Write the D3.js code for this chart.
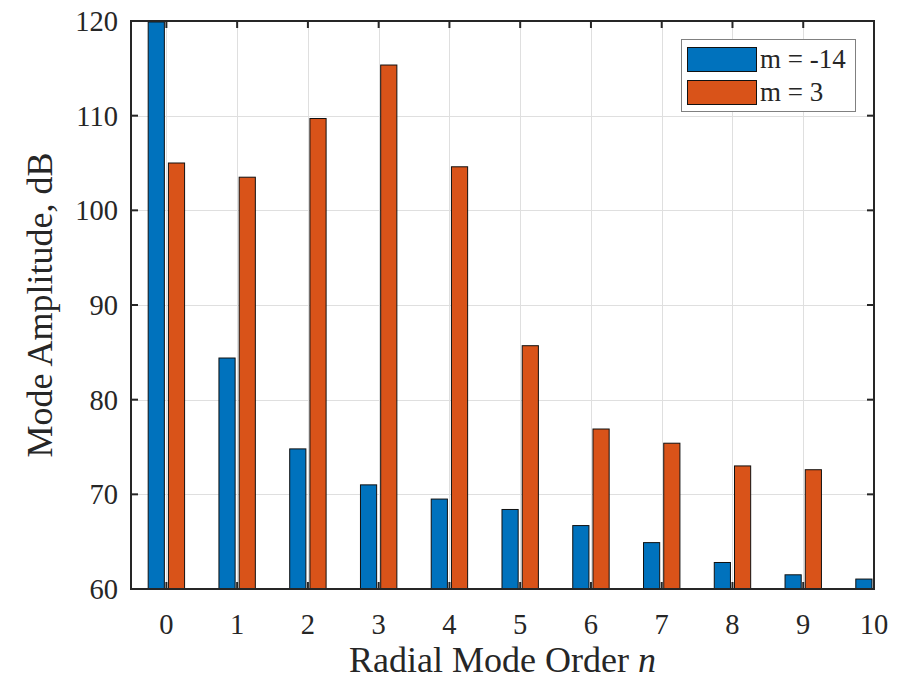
<!DOCTYPE html>
<html>
<head>
<meta charset="utf-8">
<title>Mode amplitude</title>
<script src="https://cdn.jsdelivr.net/npm/d3@7"></script>
<style>
  body { margin: 0; background: #fff; }
  svg text { font-family: "Liberation Serif", "Times New Roman", serif; fill: #262626; }
</style>
</head>
<body>
<script>
  // radial mode order n
  var orders = [0, 1, 2, 3, 4, 5, 6, 7, 8, 9, 10];
  // mode amplitude, dB, for m = -14
  var ampM14 = [119.9, 84.4, 74.8, 71.0, 69.5, 68.4, 66.7, 64.9, 62.8, 61.5, 61.05];
  // mode amplitude, dB, for m = 3 (nothing shown at n = 10)
  var ampM3 = [105.0, 103.5, 109.7, 115.35, 104.6, 85.7, 76.9, 75.4, 73.0, 72.6, null];
  var seriesNames = ["m = -14", "m = 3"];
  var yTicks = [60, 70, 80, 90, 100, 110, 120];

  var w = 908, h = 680;
  // plot box (note: "top" is taken by window.top, so prefix these)
  var pLeft = 131, pRight = 874, pTop = 21, pBottom = 589;
  var colors = ["#0072BD", "#D95319"];
  var axisColor = "#262626";

  var x = d3.scaleLinear().domain([-0.5, 10]).range([pLeft, pRight]);
  var y = d3.scaleLinear().domain([60, 120]).range([pBottom, pTop]);

  var barW = 0.2286;          // bar width in data units (matlab grouped bar)
  var offsets = [-0.1429, 0.1429];

  var svg = d3.select("body").append("svg")
    .attr("width", w)
    .attr("height", h);

  // grid
  var grid = svg.append("g").attr("stroke", "#dfdfdf").attr("stroke-width", 1);
  grid.selectAll("line.gx").data(orders).enter().append("line")
    .attr("x1", function (d) { return Math.round(x(d)) + 0.5; })
    .attr("x2", function (d) { return Math.round(x(d)) + 0.5; })
    .attr("y1", pTop).attr("y2", pBottom);
  grid.selectAll("line.gy").data(yTicks).enter().append("line")
    .attr("y1", function (d) { return Math.round(y(d)) + 0.5; })
    .attr("y2", function (d) { return Math.round(y(d)) + 0.5; })
    .attr("x1", pLeft).attr("x2", pRight);

  // bars
  [ampM14, ampM3].forEach(function (vals, s) {
    var pts = orders.map(function (n, i) { return { n: n, v: vals[i] }; })
                    .filter(function (d) { return d.v != null; });
    svg.append("g").selectAll("rect").data(pts).enter().append("rect")
      .attr("x", function (d) { return x(d.n + offsets[s] - barW / 2); })
      .attr("width", function (d) { return x(d.n + barW) - x(d.n); })
      .attr("y", function (d) { return y(d.v); })
      .attr("height", function (d) { return y(60) - y(d.v); })
      .attr("fill", colors[s])
      .attr("stroke", "#111")
      .attr("stroke-width", 1);
  });

  // axes (box with inward ticks on all four sides)
  var ax = svg.append("g");
  ax.append("rect")
    .attr("x", pLeft).attr("y", pTop)
    .attr("width", pRight - pLeft).attr("height", pBottom - pTop)
    .attr("fill", "none").attr("stroke", axisColor).attr("stroke-width", 2);

  var tl = 7;
  var ticks = ax.append("g").attr("stroke", axisColor).attr("stroke-width", 2);
  orders.forEach(function (d) {
    ticks.append("line").attr("x1", x(d)).attr("x2", x(d)).attr("y1", pBottom).attr("y2", pBottom - tl);
    ticks.append("line").attr("x1", x(d)).attr("x2", x(d)).attr("y1", pTop).attr("y2", pTop + tl);
  });
  yTicks.forEach(function (d) {
    ticks.append("line").attr("y1", y(d)).attr("y2", y(d)).attr("x1", pLeft).attr("x2", pLeft + tl);
    ticks.append("line").attr("y1", y(d)).attr("y2", y(d)).attr("x1", pRight).attr("x2", pRight - tl);
  });

  // tick labels
  ax.selectAll("text.xt").data(orders).enter().append("text")
    .attr("x", function (d) { return x(d); })
    .attr("y", 634)
    .attr("text-anchor", "middle")
    .attr("font-size", 28.5)
    .text(function (d) { return d; });
  ax.selectAll("text.yt").data(yTicks).enter().append("text")
    .attr("x", pLeft - 13)
    .attr("y", function (d) { return y(d); })
    .attr("dy", "0.35em")
    .attr("text-anchor", "end")
    .attr("font-size", 28.5)
    .text(function (d) { return d; });

  // axis labels
  var xl = svg.append("text")
    .attr("x", (pLeft + pRight) / 2)
    .attr("y", 672)
    .attr("text-anchor", "middle")
    .attr("font-size", 36);
  xl.append("tspan").text("Radial Mode Order ");
  xl.append("tspan").attr("font-style", "italic").text("n");

  svg.append("text")
    .attr("transform", "translate(52," + ((pTop + pBottom) / 2) + ") rotate(-90)")
    .attr("text-anchor", "middle")
    .attr("font-size", 36)
    .text("Mode Amplitude, dB");

  // legend
  var lg = svg.append("g");
  lg.append("rect")
    .attr("x", 681.5).attr("y", 39.5).attr("width", 174).attr("height", 72)
    .attr("fill", "#fff").attr("stroke", "#808080").attr("stroke-width", 1);
  seriesNames.forEach(function (name, i) {
    lg.append("rect")
      .attr("x", 687.5).attr("y", 47.5 + i * 33).attr("width", 69).attr("height", 24)
      .attr("fill", colors[i]).attr("stroke", "#111").attr("stroke-width", 1);
    lg.append("text")
      .attr("x", 760).attr("y", 68 + i * 33)
      .attr("font-size", 27)
      .text(name);
  });
</script>
</body>
</html>
